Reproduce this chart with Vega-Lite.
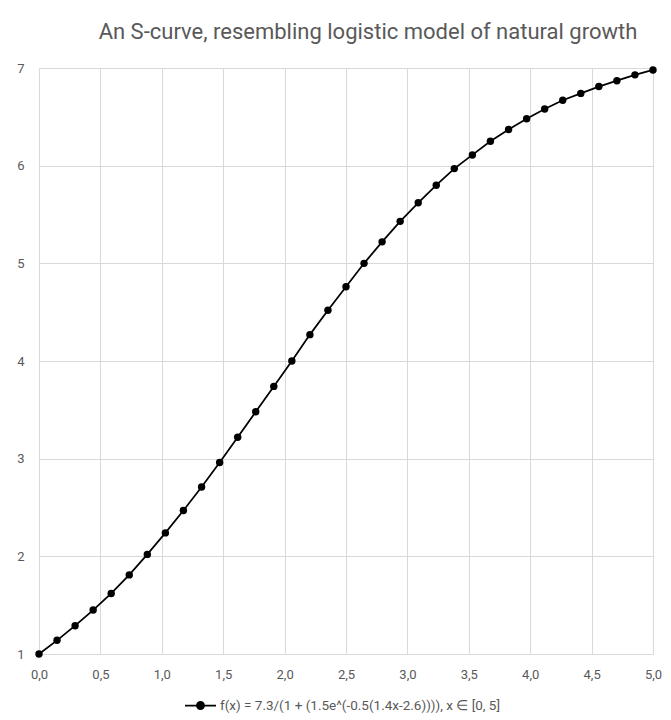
{
  "$schema": "https://vega.github.io/schema/vega-lite/v6.json",
  "width": 614,
  "height": 586,
  "autosize": {"type": "none"},
  "padding": {"left": 39, "top": 68, "right": 18, "bottom": 66},
  "background": "white",
  "title": {
    "text": "An S-curve, resembling logistic model of natural growth",
    "font": "Roboto",
    "fontSize": 22,
    "fontWeight": "normal",
    "color": "#595959",
    "anchor": "middle",
    "dx": 22,
    "offset": 18
  },
  "data": {
    "values": [
      {"x": 0.000, "y": 1.00, "s": "f(x) = 7.3/(1 + (1.5e^(-0.5(1.4x-2.6)))), x ∈ [0, 5]"},
      {"x": 0.147, "y": 1.14, "s": "f(x) = 7.3/(1 + (1.5e^(-0.5(1.4x-2.6)))), x ∈ [0, 5]"},
      {"x": 0.294, "y": 1.29, "s": "f(x) = 7.3/(1 + (1.5e^(-0.5(1.4x-2.6)))), x ∈ [0, 5]"},
      {"x": 0.441, "y": 1.45, "s": "f(x) = 7.3/(1 + (1.5e^(-0.5(1.4x-2.6)))), x ∈ [0, 5]"},
      {"x": 0.588, "y": 1.62, "s": "f(x) = 7.3/(1 + (1.5e^(-0.5(1.4x-2.6)))), x ∈ [0, 5]"},
      {"x": 0.735, "y": 1.81, "s": "f(x) = 7.3/(1 + (1.5e^(-0.5(1.4x-2.6)))), x ∈ [0, 5]"},
      {"x": 0.882, "y": 2.02, "s": "f(x) = 7.3/(1 + (1.5e^(-0.5(1.4x-2.6)))), x ∈ [0, 5]"},
      {"x": 1.029, "y": 2.24, "s": "f(x) = 7.3/(1 + (1.5e^(-0.5(1.4x-2.6)))), x ∈ [0, 5]"},
      {"x": 1.176, "y": 2.47, "s": "f(x) = 7.3/(1 + (1.5e^(-0.5(1.4x-2.6)))), x ∈ [0, 5]"},
      {"x": 1.324, "y": 2.71, "s": "f(x) = 7.3/(1 + (1.5e^(-0.5(1.4x-2.6)))), x ∈ [0, 5]"},
      {"x": 1.471, "y": 2.96, "s": "f(x) = 7.3/(1 + (1.5e^(-0.5(1.4x-2.6)))), x ∈ [0, 5]"},
      {"x": 1.618, "y": 3.22, "s": "f(x) = 7.3/(1 + (1.5e^(-0.5(1.4x-2.6)))), x ∈ [0, 5]"},
      {"x": 1.765, "y": 3.48, "s": "f(x) = 7.3/(1 + (1.5e^(-0.5(1.4x-2.6)))), x ∈ [0, 5]"},
      {"x": 1.912, "y": 3.74, "s": "f(x) = 7.3/(1 + (1.5e^(-0.5(1.4x-2.6)))), x ∈ [0, 5]"},
      {"x": 2.059, "y": 4.00, "s": "f(x) = 7.3/(1 + (1.5e^(-0.5(1.4x-2.6)))), x ∈ [0, 5]"},
      {"x": 2.206, "y": 4.27, "s": "f(x) = 7.3/(1 + (1.5e^(-0.5(1.4x-2.6)))), x ∈ [0, 5]"},
      {"x": 2.353, "y": 4.52, "s": "f(x) = 7.3/(1 + (1.5e^(-0.5(1.4x-2.6)))), x ∈ [0, 5]"},
      {"x": 2.500, "y": 4.76, "s": "f(x) = 7.3/(1 + (1.5e^(-0.5(1.4x-2.6)))), x ∈ [0, 5]"},
      {"x": 2.647, "y": 5.00, "s": "f(x) = 7.3/(1 + (1.5e^(-0.5(1.4x-2.6)))), x ∈ [0, 5]"},
      {"x": 2.794, "y": 5.22, "s": "f(x) = 7.3/(1 + (1.5e^(-0.5(1.4x-2.6)))), x ∈ [0, 5]"},
      {"x": 2.941, "y": 5.43, "s": "f(x) = 7.3/(1 + (1.5e^(-0.5(1.4x-2.6)))), x ∈ [0, 5]"},
      {"x": 3.088, "y": 5.62, "s": "f(x) = 7.3/(1 + (1.5e^(-0.5(1.4x-2.6)))), x ∈ [0, 5]"},
      {"x": 3.235, "y": 5.80, "s": "f(x) = 7.3/(1 + (1.5e^(-0.5(1.4x-2.6)))), x ∈ [0, 5]"},
      {"x": 3.382, "y": 5.97, "s": "f(x) = 7.3/(1 + (1.5e^(-0.5(1.4x-2.6)))), x ∈ [0, 5]"},
      {"x": 3.529, "y": 6.11, "s": "f(x) = 7.3/(1 + (1.5e^(-0.5(1.4x-2.6)))), x ∈ [0, 5]"},
      {"x": 3.676, "y": 6.25, "s": "f(x) = 7.3/(1 + (1.5e^(-0.5(1.4x-2.6)))), x ∈ [0, 5]"},
      {"x": 3.824, "y": 6.37, "s": "f(x) = 7.3/(1 + (1.5e^(-0.5(1.4x-2.6)))), x ∈ [0, 5]"},
      {"x": 3.971, "y": 6.48, "s": "f(x) = 7.3/(1 + (1.5e^(-0.5(1.4x-2.6)))), x ∈ [0, 5]"},
      {"x": 4.118, "y": 6.58, "s": "f(x) = 7.3/(1 + (1.5e^(-0.5(1.4x-2.6)))), x ∈ [0, 5]"},
      {"x": 4.265, "y": 6.67, "s": "f(x) = 7.3/(1 + (1.5e^(-0.5(1.4x-2.6)))), x ∈ [0, 5]"},
      {"x": 4.412, "y": 6.74, "s": "f(x) = 7.3/(1 + (1.5e^(-0.5(1.4x-2.6)))), x ∈ [0, 5]"},
      {"x": 4.559, "y": 6.81, "s": "f(x) = 7.3/(1 + (1.5e^(-0.5(1.4x-2.6)))), x ∈ [0, 5]"},
      {"x": 4.706, "y": 6.87, "s": "f(x) = 7.3/(1 + (1.5e^(-0.5(1.4x-2.6)))), x ∈ [0, 5]"},
      {"x": 4.853, "y": 6.93, "s": "f(x) = 7.3/(1 + (1.5e^(-0.5(1.4x-2.6)))), x ∈ [0, 5]"},
      {"x": 5.000, "y": 6.98, "s": "f(x) = 7.3/(1 + (1.5e^(-0.5(1.4x-2.6)))), x ∈ [0, 5]"}
    ]
  },
  "mark": {
    "type": "line",
    "strokeWidth": 1.75,
    "point": {"filled": true, "size": 55, "opacity": 1}
  },
  "encoding": {
    "x": {
      "field": "x",
      "type": "quantitative",
      "scale": {"domain": [0, 5], "nice": false, "zero": false},
      "axis": {
        "title": null,
        "values": [0, 0.5, 1, 1.5, 2, 2.5, 3, 3.5, 4, 4.5, 5],
        "labelExpr": "replace(format(datum.value, '.1f'), '.', ',')",
        "ticks": false,
        "domain": true,
        "domainColor": "#D9D9D9",
        "domainWidth": 1,
        "grid": true,
        "gridColor": "#D9D9D9",
        "gridWidth": 1,
        "labelPadding": 14,
        "labelFont": "Roboto",
        "labelFontSize": 13,
        "labelColor": "#595959",
        "labelFlush": false
      }
    },
    "y": {
      "field": "y",
      "type": "quantitative",
      "scale": {"domain": [1, 7], "nice": false, "zero": false},
      "axis": {
        "title": null,
        "values": [1, 2, 3, 4, 5, 6, 7],
        "ticks": false,
        "domain": false,
        "grid": true,
        "gridColor": "#D9D9D9",
        "gridWidth": 1,
        "labelPadding": 15,
        "labelFont": "Roboto",
        "labelFontSize": 13,
        "labelColor": "#595959"
      }
    },
    "color": {
      "field": "s",
      "type": "nominal",
      "scale": {"range": ["#000000"]},
      "legend": {
        "title": null,
        "orient": "none",
        "legendX": 145,
        "legendY": 621,
        "symbolType": "M -1 0 L 1 0 M -0.23 0 A 0.23 0.23 0 1 1 0.23 0 A 0.23 0.23 0 1 1 -0.23 0",
        "symbolSize": 961,
        "symbolStrokeWidth": 1.75,
        "symbolFillColor": "#000000",
        "symbolStrokeColor": "#000000",
        "labelFont": "Roboto",
        "labelFontSize": 13.5,
        "labelColor": "#595959",
        "labelOffset": 3,
        "labelLimit": 400
      }
    }
  },
  "config": {
    "view": {"stroke": null}
  }
}
